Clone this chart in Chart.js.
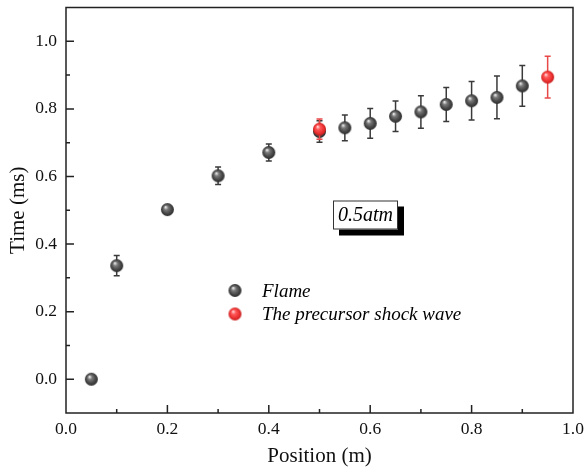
<!DOCTYPE html>
<html>
<head>
<meta charset="utf-8">
<script src="https://cdn.jsdelivr.net/npm/chart.js@4/dist/chart.umd.min.js"></script>
<style>
  html, body { margin: 0; padding: 0; background: #fff; }
  #wrap { width: 587px; height: 473px; }
</style>
</head>
<body>
<div id="wrap"><canvas id="c" width="587" height="473"></canvas></div>
<script>
// ---- data ----
const flameX   = [0.05, 0.10, 0.20, 0.30, 0.40, 0.50, 0.55, 0.60, 0.65, 0.70, 0.75, 0.80, 0.85, 0.90];
const flameY   = [0.000, 0.336, 0.502, 0.602, 0.671, 0.733, 0.744, 0.757, 0.778, 0.791, 0.813, 0.824, 0.834, 0.868];
const flameErr = [0.000, 0.030, 0.000, 0.026, 0.025, 0.032, 0.038, 0.044, 0.045, 0.048, 0.050, 0.057, 0.063, 0.060];
const shockX   = [0.50, 0.95];
const shockY   = [0.740, 0.894];
const shockErr = [0.030, 0.062];
const xTicks = [0.0, 0.2, 0.4, 0.6, 0.8, 1.0];
const yTicks = [0.0, 0.2, 0.4, 0.6, 0.8, 1.0];
const seriesNames = ['Flame', 'The precursor shock wave'];
const annotationText = '0.5atm';

function sphere(r, c0, c1, c2, c3) {
  const s = Math.ceil(r * 2 + 2);
  const cv = document.createElement('canvas');
  cv.width = s; cv.height = s;
  const g = cv.getContext('2d');
  const cx = s / 2, cy = s / 2;
  const grad = g.createRadialGradient(cx - r * 0.3, cy - r * 0.4, 0.3, cx, cy, r);
  grad.addColorStop(0, c0);
  grad.addColorStop(0.3, c1);
  grad.addColorStop(0.7, c2);
  grad.addColorStop(1, c3);
  g.fillStyle = grad;
  g.beginPath(); g.arc(cx, cy, r, 0, Math.PI * 2); g.fill();
  return cv;
}
const graySphere = sphere(6.5, '#f0f0f0', '#7a7a7a', '#484848', '#2c2c2c');
const redSphere  = sphere(6.5, '#ffe0e0', '#ff5a5a', '#ee3333', '#c41c1c');

const toPts = (xs, ys) => xs.map((x, i) => ({ x: x, y: ys[i] }));

const errorBars = {
  id: 'errorBars',
  beforeDatasetDraw(chart, args) {
    const ds = chart.data.datasets[args.index];
    if (!ds.errors) return;
    const { ctx } = chart;
    const xs = chart.scales.x, ys = chart.scales.y;
    ctx.save();
    ctx.strokeStyle = ds.errColor;
    ctx.lineWidth = 1.5;
    ds.data.forEach((p, i) => {
      const e = ds.errors[i];
      if (!e) return;
      const px = xs.getPixelForValue(p.x);
      const yt = ys.getPixelForValue(p.y + e);
      const yb = ys.getPixelForValue(p.y - e);
      ctx.beginPath();
      ctx.moveTo(px, yt); ctx.lineTo(px, yb);
      ctx.moveTo(px - 3, yt); ctx.lineTo(px + 3, yt);
      ctx.moveTo(px - 3, yb); ctx.lineTo(px + 3, yb);
      ctx.stroke();
    });
    ctx.restore();
  }
};

const frameAndTicks = {
  id: 'frameAndTicks',
  afterDraw(chart) {
    const { ctx, chartArea: a } = chart;
    const xs = chart.scales.x, ys = chart.scales.y;
    ctx.save();
    ctx.strokeStyle = '#222';
    ctx.lineWidth = 1.5;
    ctx.strokeRect(a.left, a.top, a.right - a.left, a.bottom - a.top);
    ctx.beginPath();
    for (let i = 1; i < 10; i++) {
      const v = i / 10;
      const len = (i % 2 === 0) ? 8 : 4;
      const px = xs.getPixelForValue(v);
      ctx.moveTo(px, a.bottom); ctx.lineTo(px, a.bottom - len);
    }
    for (let i = 0; i <= 10; i++) {
      const v = i / 10;
      const len = (i % 2 === 0) ? 8 : 4;
      const py = ys.getPixelForValue(v);
      ctx.moveTo(a.left, py); ctx.lineTo(a.left + len, py);
    }
    ctx.stroke();

    // annotation box with shadow
    const bx = a.left + 267, by = a.top + 193, bw = 65, bh = 29;
    ctx.fillStyle = '#000';
    ctx.fillRect(bx + 6, by + 6, bw, bh);
    ctx.fillStyle = '#fff';
    ctx.fillRect(bx, by, bw, bh);
    ctx.lineWidth = 1;
    ctx.strokeStyle = '#333';
    ctx.strokeRect(bx + 0.5, by + 0.5, bw - 1, bh - 1);
    ctx.fillStyle = '#000';
    ctx.font = 'italic 20px "Liberation Serif"';
    ctx.textAlign = 'center';
    ctx.textBaseline = 'middle';
    ctx.fillText(annotationText, bx + bw / 2, by + bh / 2 + 1);

    // legend
    const lx = a.left + 169, ly = a.top + 283, gap = 23.5;
    const imgs = [graySphere, redSphere];
    ctx.textAlign = 'left';
    ctx.font = 'italic 19px "Liberation Serif"';
    seriesNames.forEach((n, i) => {
      const img = imgs[i];
      ctx.drawImage(img, lx - img.width / 2, ly + i * gap - img.height / 2);
      ctx.fillText(n, lx + 27, ly + i * gap + 1);
    });
    ctx.restore();
  }
};

new Chart(document.getElementById('c'), {
  type: 'scatter',
  data: {
    datasets: [
      {
        label: seriesNames[0],
        data: toPts(flameX, flameY),
        errors: flameErr,
        errColor: '#3a3a3a',
        pointStyle: graySphere,
        pointRadius: 6.5,
        order: 1
      },
      {
        label: seriesNames[1],
        data: toPts(shockX, shockY),
        errors: shockErr,
        errColor: '#e84848',
        pointStyle: redSphere,
        pointRadius: 6.5,
        order: 0
      }
    ]
  },
  options: {
    responsive: false,
    animation: false,
    events: [],
    layout: { padding: { top: 6, right: 14, left: 0, bottom: 0 } },
    plugins: { legend: { display: false }, tooltip: { enabled: false } },
    scales: {
      x: {
        type: 'linear', min: 0, max: 1.0,
        afterBuildTicks(s) { s.ticks = xTicks.map(v => ({ value: v })); },
        afterFit(s) { s.height = 60; s.paddingLeft = 0; s.paddingRight = 0; },
        grid: { display: false, drawTicks: false },
        border: { display: false },
        ticks: {
          padding: 6, color: '#111', maxRotation: 0,
          font: { family: 'Liberation Serif', size: 17.5 },
          callback: v => Number(v).toFixed(1)
        },
        title: {
          display: true, text: 'Position (m)', color: '#111',
          font: { family: 'Liberation Serif', size: 21 },
          padding: { top: 0, bottom: 4 }
        }
      },
      y: {
        type: 'linear', min: -0.1, max: 1.1,
        afterBuildTicks(s) { s.ticks = yTicks.map(v => ({ value: v })); },
        afterFit(s) { s.width = 66; s.paddingTop = 0; s.paddingBottom = 0; },
        grid: { display: false, drawTicks: false },
        border: { display: false },
        ticks: {
          padding: 9, color: '#111',
          font: { family: 'Liberation Serif', size: 17.5 },
          callback: v => Number(v).toFixed(1)
        },
        title: {
          display: true, text: 'Time (ms)', color: '#111',
          font: { family: 'Liberation Serif', size: 21 },
          padding: { top: 6, bottom: 0 }
        }
      }
    }
  },
  plugins: [errorBars, frameAndTicks]
});
</script>
</body>
</html>
